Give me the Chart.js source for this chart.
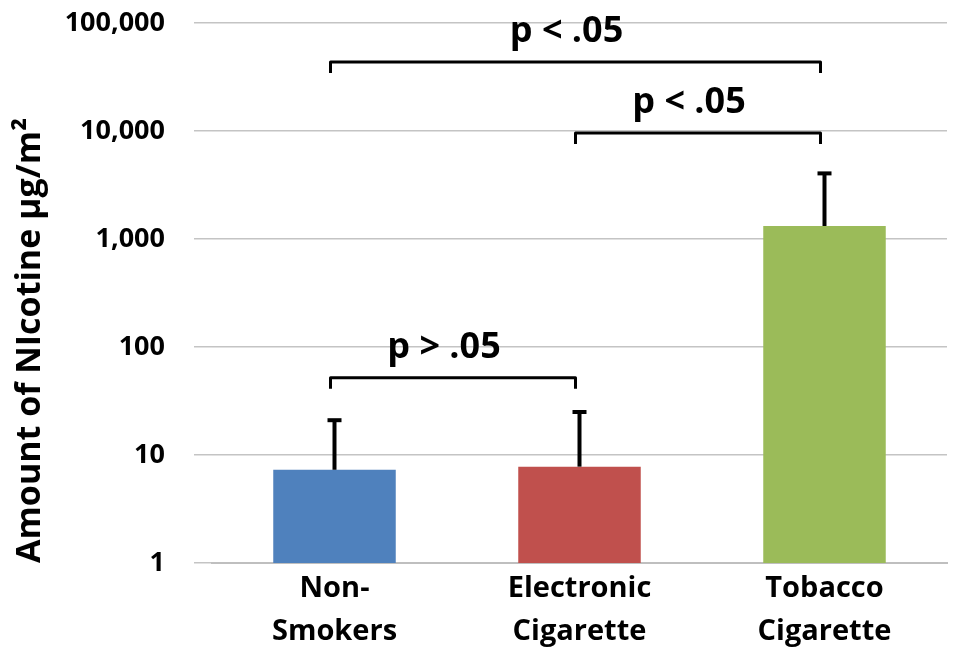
<!DOCTYPE html>
<html>
<head>
<meta charset="utf-8">
<script src="https://cdn.jsdelivr.net/npm/chart.js@4/dist/chart.umd.min.js"></script>
<style>
  html, body { margin: 0; background: #fff; }
</style>
</head>
<body>
<canvas id="graph" width="955" height="654"></canvas>
<script>
// values
var groups = [['Non-', 'Smokers'], ['Electronic', 'Cigarette'], ['Tobacco', 'Cigarette']];
var nicotine = [7.3, 7.8, 1320];
var errorTop = [21, 25, 4050];
var barColors = ['#4F81BD', '#C0504D', '#9BBB59'];
var yTicks = [1, 10, 100, 1000, 10000, 100000];
var pairFrom = [0, 1, 0];
var pairTo = [1, 2, 2];
var pairText = ['p > .05', 'p < .05', 'p < .05'];
var pairLevel = [52, 9600, 43500];

var errorBars = {
    id: 'errorBars',
    afterDatasetsDraw: function (chart) {
        var ctx = chart.ctx;
        var y = chart.scales.y;
        var meta = chart.getDatasetMeta(0);
        ctx.save();
        ctx.strokeStyle = '#000';
        ctx.lineWidth = 4;
        meta.data.forEach(function (bar, i) {
            var top = y.getPixelForValue(errorTop[i]);
            ctx.beginPath();
            ctx.moveTo(bar.x, bar.y);
            ctx.lineTo(bar.x, top);
            ctx.stroke();
            ctx.beginPath();
            ctx.moveTo(bar.x - 7, top);
            ctx.lineTo(bar.x + 7, top);
            ctx.stroke();
        });
        ctx.restore();
    }
};

var brackets = {
    id: 'brackets',
    afterDraw: function (chart) {
        var ctx = chart.ctx;
        var x = chart.scales.x;
        var y = chart.scales.y;
        ctx.save();
        ctx.strokeStyle = '#000';
        ctx.fillStyle = '#000';
        ctx.lineWidth = 3;
        ctx.lineJoin = 'round';
        ctx.font = 'bold 36px "Open Sans"';
        ctx.textAlign = 'center';
        ctx.textBaseline = 'middle';
        for (var i = 0; i < pairText.length; i++) {
            var x1 = x.getPixelForValue(pairFrom[i]) - 4;
            var x2 = x.getPixelForValue(pairTo[i]) - 4;
            var yy = y.getPixelForValue(pairLevel[i]);
            ctx.beginPath();
            ctx.moveTo(x1, yy + 11);
            ctx.lineTo(x1, yy);
            ctx.lineTo(x2, yy);
            ctx.lineTo(x2, yy + 11);
            ctx.stroke();
            ctx.fillText(pairText[i], (x1 + x2) / 2 - 9, yy - 30);
        }
        ctx.restore();
    }
};

var canvas = document.querySelector('#graph');
var context = canvas.getContext('2d');

new Chart(context, {
    type: 'bar',
    data: {
        labels: groups,
        datasets: [{
            data: nicotine,
            backgroundColor: barColors,
            borderWidth: 0,
            categoryPercentage: 1,
            barPercentage: 0.5
        }]
    },
    options: {
        responsive: false,
        animation: false,
        layout: { padding: { top: 23, right: 8, left: 0, bottom: 0 } },
        plugins: {
            legend: { display: false },
            tooltip: { enabled: false }
        },
        scales: {
            x: {
                grid: { display: false, drawTicks: false },
                border: { display: true, color: '#BFBFBF', width: 2 },
                ticks: {
                    color: '#000',
                    padding: 4,
                    font: { family: '"Open Sans"', weight: 'bold', size: 29, lineHeight: 1.48 }
                },
                afterFit: function (scale) { scale.height = 91; }
            },
            y: {
                type: 'logarithmic',
                min: 1,
                max: 100000,
                border: { display: false },
                grid: { color: '#C4C4C4', lineWidth: 1.5, drawTicks: true, tickLength: 18, tickColor: '#C4C4C4' },
                afterBuildTicks: function (scale) {
                    scale.ticks = yTicks.map(function (v) { return { value: v }; });
                },
                ticks: {
                    color: '#000',
                    padding: 29,
                    font: { family: '"Open Sans"', weight: 'bold', size: 27 },
                    callback: function (v) { return Number(v).toLocaleString('en-US'); }
                },
                title: {
                    display: true,
                    align: 'start',
                    text: 'Amount of NIcotine µg/m²',
                    color: '#000',
                    padding: { top: 10, bottom: 0 },
                    font: { family: '"Open Sans"', weight: 'bold', size: 34 }
                },
                afterFit: function (scale) {
                    scale.width = 212;
                    scale.paddingTop = 0;
                    scale.paddingBottom = 0;
                }
            }
        }
    },
    plugins: [errorBars, brackets]
});
</script>
</body>
</html>
